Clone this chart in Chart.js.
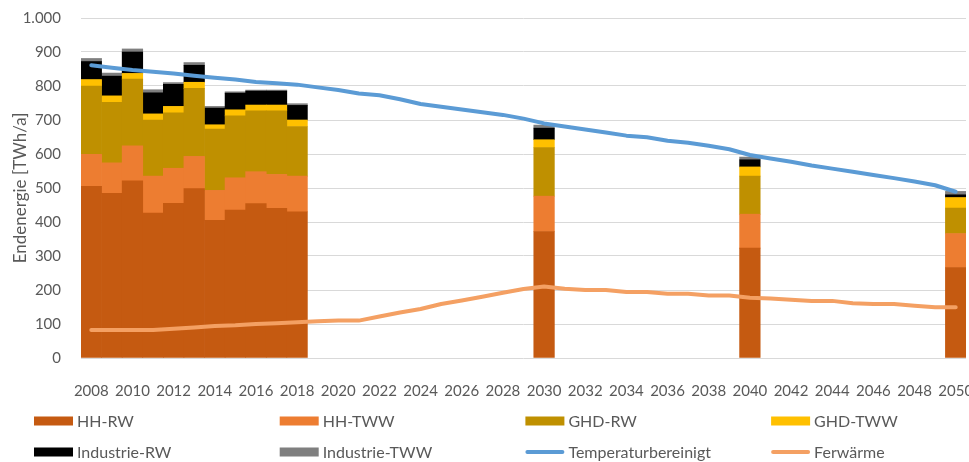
<!DOCTYPE html>
<html>
<head>
<meta charset="utf-8">
<script src="https://cdn.jsdelivr.net/npm/chart.js@4/dist/chart.umd.min.js"></script>
<style>
  html, body { margin: 0; padding: 0; background: #fff; }
  #wrap { width: 969px; height: 462px; }
</style>
</head>
<body>
<div id="wrap"><canvas id="heat-chart"></canvas></div>
<script>
    "use strict";

    // years 2008 .. 2050
    var years = [];
    for (var y = 2008; y <= 2050; y++) years.push(String(y));

    // bar years: 2008-2018, 2030, 2040, 2050 (null = no bar)
    var hhRW = [505, 484, 521, 426, 455, 498, 405, 435, 454, 440, 430,
        null, null, null, null, null, null, null, null, null, null, null, 372,
        null, null, null, null, null, null, null, null, null, 323,
        null, null, null, null, null, null, null, null, null, 266];
    var hhTWW = [94, 90, 103, 109, 103, 95, 88, 95, 94, 100, 105,
        null, null, null, null, null, null, null, null, null, null, null, 104,
        null, null, null, null, null, null, null, null, null, 100,
        null, null, null, null, null, null, null, null, null, 100];
    var ghdRW = [201, 178, 196, 165, 163, 200, 180, 182, 179, 187, 146,
        null, null, null, null, null, null, null, null, null, null, null, 143,
        null, null, null, null, null, null, null, null, null, 112,
        null, null, null, null, null, null, null, null, null, 75];
    var ghdTWW = [19, 19, 17, 18, 19, 18, 13, 18, 17, 17, 19,
        null, null, null, null, null, null, null, null, null, null, null, 23,
        null, null, null, null, null, null, null, null, null, 27,
        null, null, null, null, null, null, null, null, null, 31];
    var indRW = [53, 58, 63, 62, 65, 50, 49, 49, 41, 41, 43,
        null, null, null, null, null, null, null, null, null, null, null, 34,
        null, null, null, null, null, null, null, null, null, 21,
        null, null, null, null, null, null, null, null, null, 8];
    var indTWW = [9, 9, 9, 9, 5, 8, 5, 4, 3, 3, 5,
        null, null, null, null, null, null, null, null, null, null, null, 9,
        null, null, null, null, null, null, null, null, null, 8,
        null, null, null, null, null, null, null, null, null, 10];

    var temperaturbereinigt = [861, 854, 847, 842, 837, 830, 824, 819, 812, 808, 804,
        796, 788, 778, 773, 761, 747, 739, 731, 723, 715, 704, 690,
        681, 672, 663, 654, 649, 639, 633, 624, 614, 597,
        587, 577, 566, 557, 548, 538, 529, 519, 508, 489];
    var fernwaerme = [82, 82, 82, 82, 86, 90, 94, 96, 100, 102, 105,
        108, 110, 110, 122, 134, 144, 159, 169, 180, 192, 203, 210,
        204, 200, 200, 194, 194, 189, 189, 184, 184, 177,
        175, 171, 168, 168, 161, 159, 159, 154, 149, 149];

    var yTicks = [0, 100, 200, 300, 400, 500, 600, 700, 800, 900, 1000];

    var textColor = "#595959";
    var fontFamily = "Lato, 'Open Sans', sans-serif";

    function fmt(v) {
        return String(v).replace(/\B(?=(\d{3})+(?!\d))/g, ".");
    }

    function bar(label, data, color) {
        return {
            type: "bar",
            label: label,
            data: data,
            backgroundColor: color,
            borderWidth: 0,
            stack: "bars",
            order: 1,
            barPercentage: 1,
            categoryPercentage: 1
        };
    }

    function line(label, data, color, stack) {
        return {
            type: "line",
            label: label,
            data: data,
            borderColor: color,
            backgroundColor: color,
            borderWidth: 4,
            borderCapStyle: "round",
            borderJoinStyle: "round",
            pointRadius: 0,
            tension: 0,
            stack: stack,
            order: 0
        };
    }

    // legend in a 4 column grid like the original
    var gridLegend = {
        id: "gridLegend",
        afterDraw: function (chart) {
            var c = chart.ctx;
            var ds = chart.data.datasets;
            c.save();
            c.font = "16px " + fontFamily;
            c.textBaseline = "middle";
            for (var i = 0; i < ds.length; i++) {
                var col = i % 4, row = Math.floor(i / 4);
                var x = 34 + col * 245.7;
                var yy = 421 + row * 31;
                if (ds[i].type === "line") {
                    c.strokeStyle = ds[i].borderColor;
                    c.lineWidth = 4;
                    c.lineCap = "round";
                    c.beginPath();
                    c.moveTo(x + 2, yy);
                    c.lineTo(x + 37, yy);
                    c.stroke();
                } else {
                    c.fillStyle = ds[i].backgroundColor;
                    c.fillRect(x, yy - 4.5, 39, 9);
                }
                c.fillStyle = textColor;
                c.fillText(ds[i].label, x + 43, yy + 1);
            }
            c.restore();
        }
    };

    var ctx = document.getElementById("heat-chart").getContext("2d");
    var myChart = new Chart(ctx, {
        data: {
            labels: years,
            datasets: [
                bar("HH-RW", hhRW, "#C55A11"),
                bar("HH-TWW", hhTWW, "#ED7D31"),
                bar("GHD-RW", ghdRW, "#BF9000"),
                bar("GHD-TWW", ghdTWW, "#FFC000"),
                bar("Industrie-RW", indRW, "#000000"),
                bar("Industrie-TWW", indTWW, "#7F7F7F"),
                line("Temperaturbereinigt", temperaturbereinigt, "#5B9BD5", "t1"),
                line("Ferwärme", fernwaerme, "#F4A063", "t2")
            ]
        },
        options: {
            responsive: true,
            maintainAspectRatio: false,
            animation: false,
            layout: { padding: { top: 18, right: 3, bottom: 64, left: 0 } },
            plugins: {
                legend: { display: false },
                tooltip: { enabled: false }
            },
            scales: {
                x: {
                    stacked: true,
                    grid: { display: false },
                    border: { display: false },
                    ticks: {
                        autoSkip: false,
                        maxRotation: 0,
                        padding: 16,
                        color: textColor,
                        font: { family: fontFamily, size: 15 },
                        callback: function (v, i) { return i % 2 === 0 ? years[i] : ""; }
                    },
                    afterFit: function (s) {
                        s.height = 40;
                        s.paddingLeft = 0;
                        s.paddingRight = 0;
                    }
                },
                y: {
                    stacked: true,
                    min: 0,
                    max: 1000,
                    afterBuildTicks: function (s) {
                        s.ticks = yTicks.map(function (v) { return { value: v }; });
                    },
                    grid: { color: "#D9D9D9", lineWidth: 1, drawTicks: false },
                    border: { display: false },
                    ticks: {
                        padding: 20,
                        color: textColor,
                        font: { family: fontFamily, size: 15 },
                        callback: function (v) { return fmt(v); }
                    },
                    title: {
                        display: true,
                        text: "Endenergie [TWh/a]",
                        color: textColor,
                        font: { family: fontFamily, size: 17 },
                        padding: { top: 10, bottom: 0 }
                    },
                    afterFit: function (s) {
                        s.width = 81;
                        s.paddingTop = 0;
                        s.paddingBottom = 0;
                    }
                }
            }
        },
        plugins: [gridLegend]
    });
</script>
</body>
</html>
